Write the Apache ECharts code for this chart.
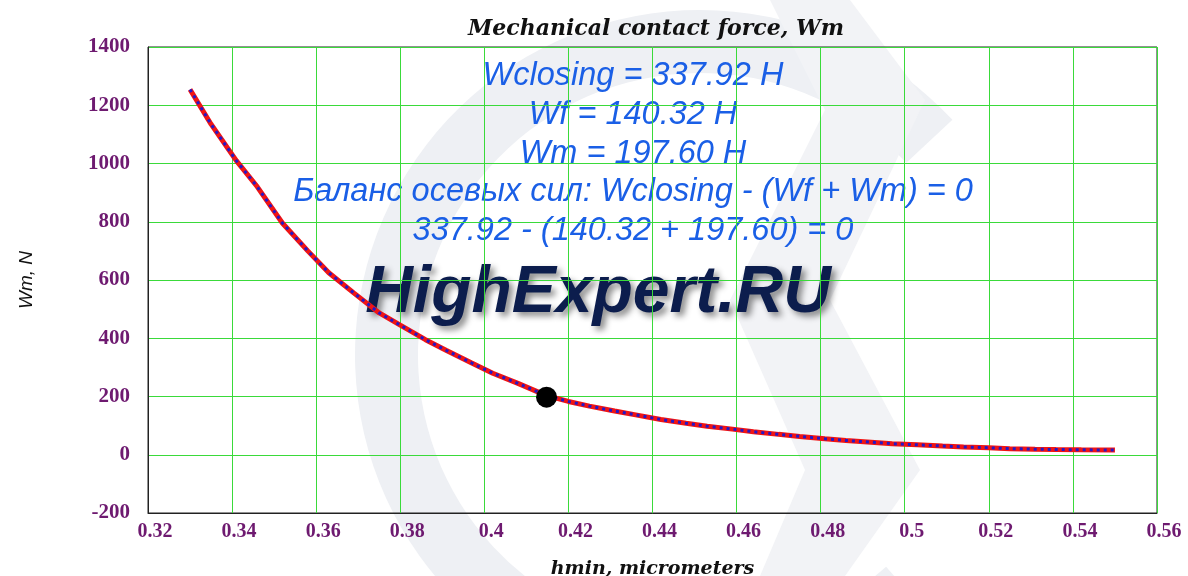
<!DOCTYPE html>
<html><head><meta charset="utf-8">
<script src="https://cdn.jsdelivr.net/npm/echarts@6/dist/echarts.min.js"></script>
<style>html,body{margin:0;padding:0;background:#fff}#c{width:1188px;height:576px}</style>
</head><body><div id="c"></div>
<script>
// ---- data ----
const hmin = [0.330, 0.335, 0.341, 0.346, 0.352, 0.358, 0.363, 0.369, 0.375, 0.380,
              0.386, 0.391, 0.397, 0.402, 0.408, 0.4148, 0.420, 0.425, 0.431, 0.436,
              0.442, 0.448, 0.453, 0.459, 0.464, 0.470, 0.475, 0.481, 0.486, 0.492,
              0.497, 0.503, 0.509, 0.514, 0.520, 0.525, 0.531, 0.536, 0.542, 0.550];
const wm   = [1254, 1135, 1010, 920, 795, 700, 625, 555, 487, 445,
              395, 358, 315, 280, 245, 203, 183, 167, 150, 137,
              121, 108, 98, 88, 79, 70, 63, 55, 49, 43,
              38, 34, 30, 27, 24, 21, 19, 18, 17, 16];
const opPointX = [0.4148];
const opPointY = [197.6];
const xRange = [0.32, 0.56, 0.02];
const yRange = [-200, 1400, 200];
const titleText = 'Mechanical contact force, Wm';
const xName = 'hmin, micrometers';
const yName = 'Wm, N';
const notes = [
  'Wclosing = 337.92 H',
  'Wf = 140.32 H',
  'Wm = 197.60 H',
  'Баланс осевых сил: Wclosing - (Wf + Wm) = 0',
  '337.92 - (140.32 + 197.60) = 0'
];
const brand = 'HighExpert.RU';

// ---- chart ----
const curve = hmin.map((x, i) => [x, wm[i]]);
const op = opPointX.map((x, i) => [x, opPointY[i]]);
const labelColor = '#6e1a70';
const graphics = [
  { type: 'sector', z: -3, silent: true,
    shape: { cx: 700, cy: 355, r: 345, r0: 282, startAngle: 0.85, endAngle: 2 * Math.PI - 0.75, clockwise: true },
    style: { fill: '#eef0f4' } },
  { type: 'polygon', z: -3, silent: true,
    shape: { points: [[770, 0], [850, 0], [925, 100], [830, 300], [920, 470], [845, 576], [760, 576], [805, 470], [730, 300], [825, 110]] },
    style: { fill: '#f2f3f6' } }
];
notes.forEach((t, i) => {
  graphics.push({ type: 'text', z: -1, silent: true, x: 633, y: 76 + i * 38.8,
    style: { text: t, textAlign: 'center', textVerticalAlign: 'middle',
      fontFamily: 'Liberation Sans', fontStyle: 'italic', fontSize: 32.5, fill: '#1a5fe6' } });
});
graphics.push({ type: 'text', z: -1, silent: true, x: 598, y: 294,
  style: { text: brand, textAlign: 'center', textVerticalAlign: 'middle',
    fontFamily: 'Liberation Sans', fontStyle: 'italic', fontWeight: 'bold', fontSize: 66,
    fill: '#0c1d4d', textShadowColor: 'rgba(0,0,0,0.45)', textShadowBlur: 6,
    textShadowOffsetX: 4, textShadowOffsetY: 4 } });

const chart = echarts.init(document.getElementById('c'), null, { renderer: 'canvas' });
chart.setOption({
  animation: false,
  backgroundColor: '#ffffff',
  title: { text: titleText, left: 651, top: 13, textAlign: 'center',
    textStyle: { fontFamily: 'DejaVu Serif', fontStyle: 'italic', fontWeight: 'bold', fontSize: 22, color: '#111' } },
  grid: { left: 148, right: 31, top: 47, bottom: 63, show: true, borderColor: '#222', borderWidth: 1,
    backgroundColor: 'transparent', containLabel: false, outerBoundsMode: 'none' },
  graphic: graphics,
  xAxis: {
    type: 'value', min: xRange[0], max: xRange[1], interval: xRange[2],
    name: xName, nameLocation: 'middle', nameGap: 47,
    nameTextStyle: { fontFamily: 'DejaVu Serif', fontStyle: 'italic', fontWeight: 'bold', fontSize: 19, color: '#111' },
    axisLine: { show: true, onZero: false, lineStyle: { color: '#222', width: 1 } },
    axisTick: { show: false },
    axisLabel: { margin: 9, color: labelColor, fontFamily: 'Liberation Serif', fontWeight: 'bold', fontSize: 20,
      padding: [0, 0, 0, 14] },
    splitLine: { show: true, lineStyle: { color: '#3ada3a', width: 1 } }
  },
  yAxis: {
    type: 'value', min: yRange[0], max: yRange[1], interval: yRange[2],
    name: yName, nameLocation: 'middle', nameGap: 112,
    nameTextStyle: { fontFamily: 'Liberation Sans', fontStyle: 'italic', fontSize: 19, color: '#111' },
    axisLine: { show: true, onZero: false, lineStyle: { color: '#222', width: 1 } },
    axisTick: { show: false },
    axisLabel: { margin: 18, color: labelColor, fontFamily: 'Liberation Serif', fontWeight: 'bold', fontSize: 21,
      formatter: v => String(v) },
    splitLine: { show: true, lineStyle: { color: '#3ada3a', width: 1 } }
  },
  series: [
    { type: 'line', data: curve, showSymbol: false, symbol: 'none', z: 3,
      lineStyle: { color: '#f01414', width: 5 } },
    { type: 'line', data: curve, showSymbol: false, symbol: 'none', z: 4,
      lineStyle: { color: '#2418c8', width: 3, type: [3, 4] } },
    { type: 'scatter', data: op, symbol: 'circle', symbolSize: 21, z: 5,
      itemStyle: { color: '#000', opacity: 1 } }
  ]
});
</script>
</body></html>
